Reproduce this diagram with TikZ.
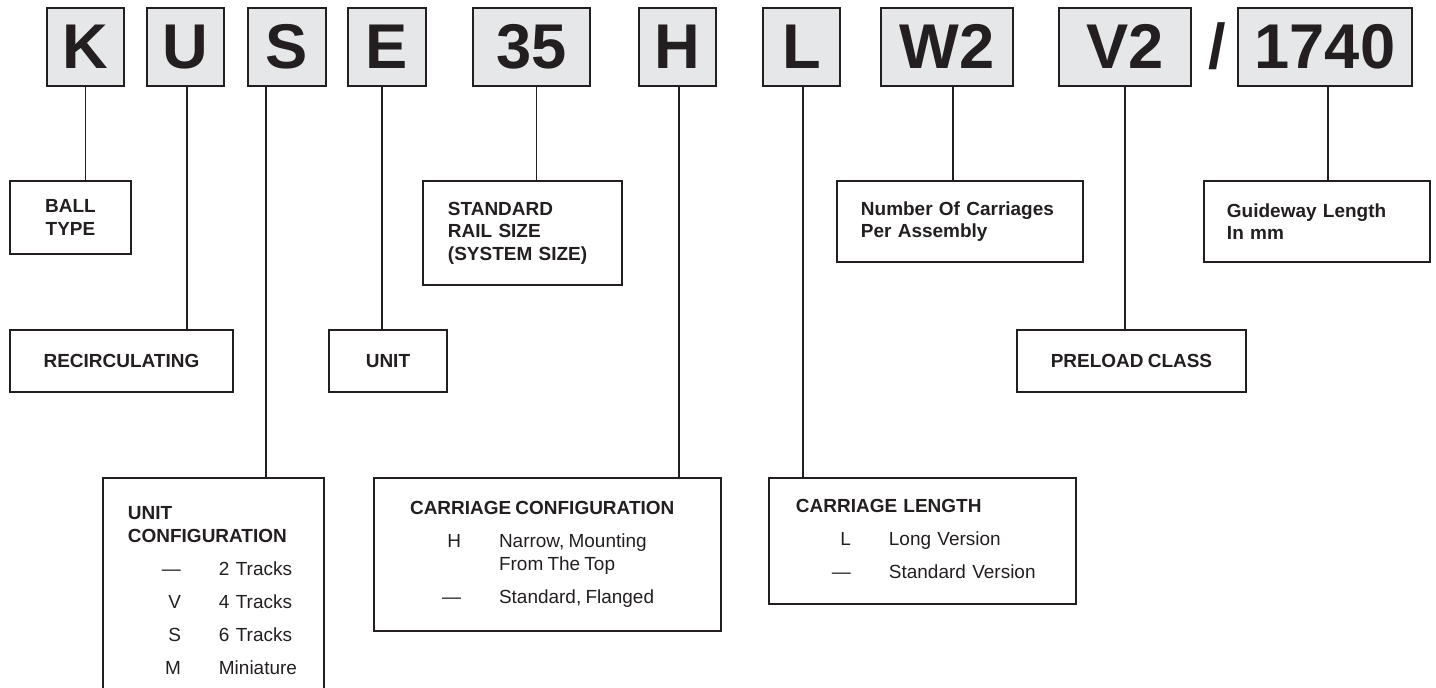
\documentclass[tikz,border=0pt]{standalone}
\usepackage{fontspec}
\setmainfont{Liberation Sans}[WordSpace=0.8]
\newlength\pxu
\setlength\pxu{0.02cm}
\definecolor{keygray}{RGB}{230,231,232}
\definecolor{ink}{RGB}{35,31,32}

\begin{document}
\begin{tikzpicture}[
  x=0.02cm, y=-0.02cm,
  code/.style={draw=ink, fill=keygray, line width=1.1pt, minimum height=78*\pxu,
               inner sep=0pt, text=ink, font=\fontsize{36}{40}\selectfont\bfseries},
  note/.style={draw=ink, line width=1.1pt, anchor=north west, inner sep=0pt,
               align=center, text=ink, font=\fontsize{10.8}{12.8}\selectfont},
  lnote/.style={note, align=left},
  link/.style={draw=ink, line width=1.1pt},
]
  \useasboundingbox (0,0) rectangle (1436,688);

  % part number, one box per field
  \node[code, minimum width=77*\pxu]  (k)   at (85.5,46.7)  {K};
  \node[code, minimum width=77*\pxu]  (u)   at (185.5,46.7) {U};
  \node[code, minimum width=78*\pxu]  (s)   at (287,46.7)   {S};
  \node[code, minimum width=78*\pxu]  (e)   at (387,46.7)   {E};
  \node[code, minimum width=117*\pxu] (n35) at (531.5,46.7) {35};
  \node[code, minimum width=77*\pxu]  (h)   at (677.5,46.7) {H};
  \node[code, minimum width=77*\pxu]  (l)   at (801.5,46.7) {L};
  \node[code, minimum width=132*\pxu] (w2)  at (947,46.7)   {W2};
  \node[code, minimum width=132*\pxu] (v2)  at (1125,46.7)  {V2};
  \node[code, draw=none, fill=none]   (slash) at (1217,46.7) {/};
  \node[code, minimum width=174*\pxu] (len) at (1325,46.7)  {1740};

  % upper row of notes
  \node[note, minimum width=121*\pxu, minimum height=73*\pxu] (balltype) at (9,180)
    {\bfseries BALL\\\bfseries TYPE};
  \node[lnote, minimum height=104*\pxu, inner xsep=25*\pxu, text width=149*\pxu] (railsize) at (422,180)
    {\bfseries STANDARD\\\bfseries RAIL SIZE\\\bfseries (SYSTEM SIZE)};
  \node[lnote, minimum height=81*\pxu, inner xsep=24*\pxu, text width=198*\pxu] (carriages) at (836,180)
    {\bfseries Number Of Carriages\\Per Assembly};
  \node[lnote, minimum height=81*\pxu, inner xsep=23*\pxu, text width=180*\pxu] (guideway) at (1203,180)
    {\bfseries Guideway Length\\In mm};

  % middle row
  \node[note, minimum width=223*\pxu, minimum height=62*\pxu] (recirc)  at (9,329)    {\bfseries RECIRCULATING};
  \node[note, minimum width=118*\pxu, minimum height=62*\pxu] (unit)    at (328,329)  {\bfseries UNIT};
  \node[note, minimum width=229*\pxu, minimum height=62*\pxu] (preload) at (1016,329) {\bfseries PRELOAD CLASS};

  % lower row, with the option tables
  \node[lnote, inner xsep=25*\pxu, inner ysep=26*\pxu, text width=171*\pxu] (unitcfg) at (102,477)
    {\begin{tabular}{@{\hspace{34\pxu}}r@{\hspace{38\pxu}}l}
       \multicolumn{2}{@{}l}{\bfseries UNIT}\\
       \multicolumn{2}{@{}l}{\bfseries CONFIGURATION}\\[6pt]
       --- & 2 Tracks\\[6pt]
       V   & 4 Tracks\\[6pt]
       S   & 6 Tracks\\[6pt]
       M   & Miniature
     \end{tabular}};
  \node[note, minimum width=347*\pxu, minimum height=153*\pxu] (carrcfg) at (373,477)
    {\begin{tabular}{@{\hspace{32\pxu}}r@{\hspace{38\pxu}}l}
       \multicolumn{2}{@{}l}{\bfseries CARRIAGE CONFIGURATION}\\[6pt]
       H   & Narrow, Mounting\\
           & From The Top\\[6pt]
       --- & Standard, Flanged
     \end{tabular}};
  \node[lnote, minimum height=126*\pxu, inner xsep=27*\pxu, text width=253*\pxu] (carrlen) at (768,477)
    {\begin{tabular}{@{\hspace{36\pxu}}r@{\hspace{38\pxu}}l}
       \multicolumn{2}{@{}l}{\bfseries CARRIAGE LENGTH}\\[6pt]
       L   & Long Version\\[6pt]
       --- & Standard Version
     \end{tabular}};

  % stems from each field down to its note
  \foreach \c/\d/\t in {k/0/balltype, u/1.5/recirc, s/-21/unitcfg, e/-5/unit,
                        n35/5/railsize, h/1.5/carrcfg, l/1.5/carrlen,
                        w2/6/carriages, v2/0/preload, len/3/guideway} {
    \draw[link] ([xshift=\d*\pxu]\c.south) coordinate (top) -- (top |- \t.north);
  }
\end{tikzpicture}
\end{document}
